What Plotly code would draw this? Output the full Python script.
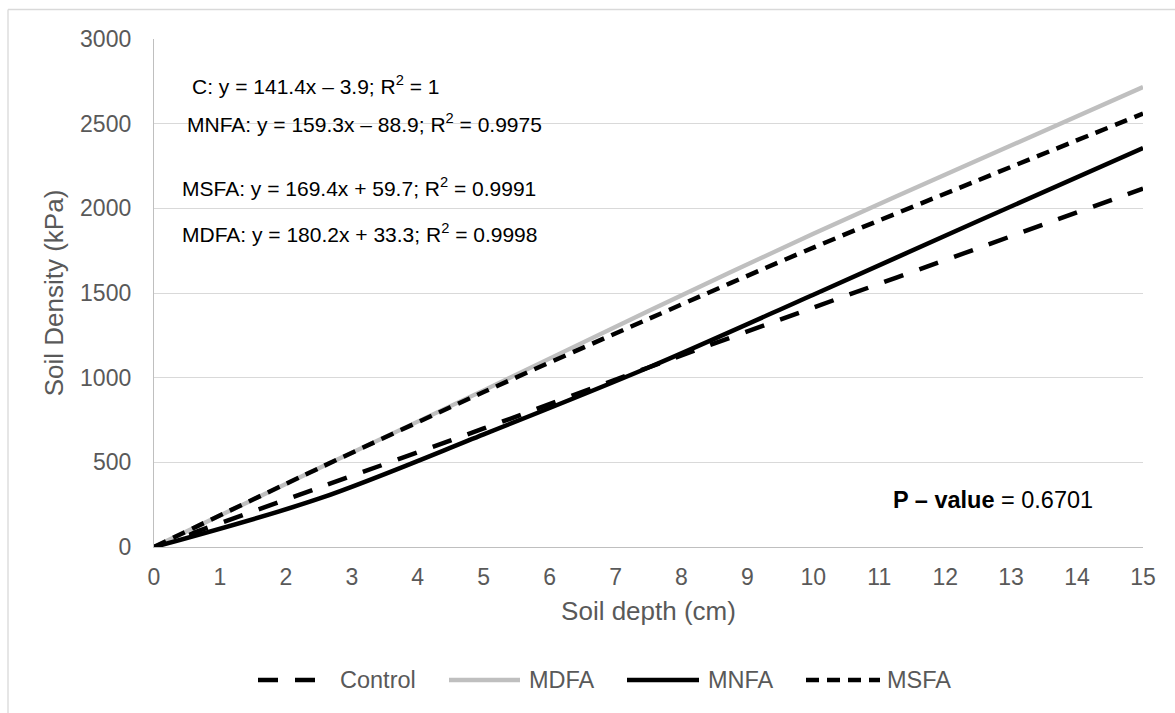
import plotly.graph_objects as go

# Soil depth (cm) at which density was sampled
depth = [0, 2.5, 5, 7.5, 10, 12.5, 15]

# Soil density (kPa) per treatment
control = [0, 350, 700, 1060, 1414, 1765, 2117]
mdfa = [0, 465, 925, 1394, 1850, 2285, 2716]
mnfa = [0, 285, 665, 1060, 1490, 1925, 2356]
msfa = [0, 465, 915, 1347, 1768, 2166, 2559]

series_names = ["Control", "MDFA", "MNFA", "MSFA"]
series_values = [control, mdfa, mnfa, msfa]

equations = [
    "C: y = 141.4x – 3.9; R<sup>2</sup> = 1",
    "MNFA: y = 159.3x – 88.9; R<sup>2</sup> = 0.9975",
    "MSFA: y = 169.4x + 59.7; R<sup>2</sup> = 0.9991",
    "MDFA: y = 180.2x + 33.3; R<sup>2</sup> = 0.9998",
]
p_value_text = "<b>P – value</b> = 0.6701"

FONT = "Liberation Sans, Arial, sans-serif"
GREY_TEXT = "#595959"

styles = {
    "Control": dict(color="black", width=4.5, dash="20px,17px"),
    "MDFA": dict(color="#bfbfbf", width=4.3, dash="solid"),
    "MNFA": dict(color="black", width=4.5, dash="solid"),
    "MSFA": dict(color="black", width=4.5, dash="13px,8px"),
}

fig = go.Figure()
for name, vals in zip(series_names, series_values):
    fig.add_trace(go.Scatter(
        x=depth, y=vals, name=name, mode="lines",
        line=dict(shape="spline", smoothing=0.9, **styles[name]),
        showlegend=False,
    ))

W, H = 1175, 713
L, R, T, B = 154, 32, 39, 166
pw, ph = W - L - R, H - T - B


def px_x(px):
    return (px - L) / pw


def px_y(py):
    return (H - B - py) / ph


shapes = []
annotations = []

# outer chart frame (top and left edges)
shapes.append(dict(type="line", xref="paper", yref="paper",
                   x0=px_x(8), x1=px_x(1200), y0=px_y(9.5), y1=px_y(9.5),
                   line=dict(color="#d9d9d9", width=1.3)))
shapes.append(dict(type="line", xref="paper", yref="paper",
                   x0=px_x(8), x1=px_x(8), y0=px_y(9.5), y1=px_y(730),
                   line=dict(color="#d9d9d9", width=1.3)))

# white box behind the MNFA equation hiding the gridline
shapes.append(dict(type="rect", xref="paper", yref="paper", layer="between",
                   x0=px_x(165), x1=px_x(595), y0=px_y(138), y1=px_y(108),
                   fillcolor="white", line=dict(width=0)))

eq_pos = [(190, 85), (185, 123.3), (180, 186.7), (180, 233.3)]
for txt, (ex, ey) in zip(equations, eq_pos):
    annotations.append(dict(text=txt, xref="paper", yref="paper",
                            x=px_x(ex), y=px_y(ey), xanchor="left", yanchor="middle",
                            showarrow=False, font=dict(family=FONT, size=21, color="black")))

annotations.append(dict(text=p_value_text, xref="paper", yref="paper",
                        x=px_x(891), y=px_y(500), xanchor="left", yanchor="middle",
                        showarrow=False, font=dict(family=FONT, size=23.5, color="black")))

# legend drawn below the x-axis title
legend_y = px_y(680)
legend_items = [
    ("Control", 258, 322, 338),
    ("MDFA", 449, 520, 527),
    ("MNFA", 627, 699, 706),
    ("MSFA", 806, 880, 885),
]
for name, lx0, lx1, tx in legend_items:
    st = styles[name]
    shapes.append(dict(type="line", xref="paper", yref="paper",
                       x0=px_x(lx0), x1=px_x(lx1), y0=legend_y, y1=legend_y,
                       line=dict(color=st["color"], width=st["width"], dash=st["dash"])))
    annotations.append(dict(text=name, xref="paper", yref="paper",
                            x=px_x(tx), y=legend_y, xanchor="left", yanchor="middle",
                            showarrow=False, font=dict(family=FONT, size=23.5, color=GREY_TEXT)))

fig.update_layout(
    width=W, height=H,
    margin=dict(l=L, r=R, t=T, b=B, autoexpand=False),
    paper_bgcolor="white", plot_bgcolor="white",
    font=dict(family=FONT, color=GREY_TEXT),
    shapes=shapes, annotations=annotations,
    showlegend=False,
)
fig.update_xaxes(
    range=[0, 15], dtick=1, tick0=0,
    showgrid=False, zeroline=False,
    showline=True, linecolor="#bfbfbf", linewidth=1.3,
    ticks="", ticklabelstandoff=9,
    tickfont=dict(family=FONT, size=23, color=GREY_TEXT),
    title=dict(text="Soil depth (cm)", standoff=13,
               font=dict(family=FONT, size=26, color=GREY_TEXT)),
    automargin=False,
)
fig.update_yaxes(
    range=[0, 3000], dtick=500, tick0=0,
    showgrid=True, gridcolor="#d9d9d9", gridwidth=1.3,
    zeroline=False,
    showline=True, linecolor="#bfbfbf", linewidth=1.3,
    ticks="", ticklabelstandoff=17,
    tickfont=dict(family=FONT, size=23, color=GREY_TEXT),
    title=dict(text="Soil Density (kPa)", standoff=8,
               font=dict(family=FONT, size=26, color=GREY_TEXT)),
    automargin=False,
)

fig.write_html("out.html")
